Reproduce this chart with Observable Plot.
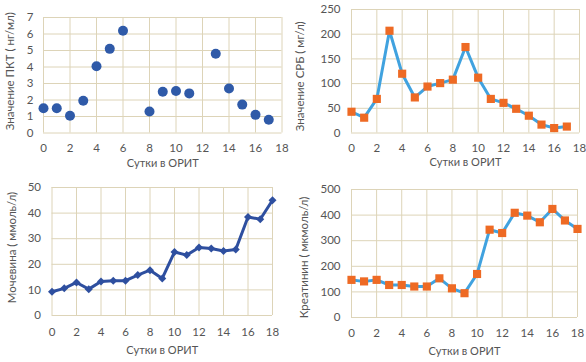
<!DOCTYPE html>
<html>
<head>
<meta charset="utf-8">
<script src="https://cdn.jsdelivr.net/npm/d3@7"></script>
<script src="https://cdn.jsdelivr.net/npm/@observablehq/plot@0.6"></script>
<style>
  html, body { margin: 0; padding: 0; background: #ffffff; }
  #wrap { position: relative; width: 586px; height: 362px; overflow: hidden; background: #fff; }
  #wrap > div, #wrap > svg { position: absolute; }
</style>
</head>
<body>
<div id="wrap"></div>
<script>
// ---- data ----
const xTicks = [0, 2, 4, 6, 8, 10, 12, 14, 16, 18];
const xTitle = "Сутки в ОРИТ";

const pctTitle = "Значение ПКТ ( нг/мл)";
const pctDays = [0, 1, 2, 3, 4, 5, 6, 8, 9, 10, 11, 13, 14, 15, 16, 17];
const pctValues = [1.5, 1.5, 1.05, 1.95, 4.05, 5.1, 6.2, 1.3, 2.5, 2.55, 2.4, 4.8, 2.7, 1.72, 1.1, 0.8];
const pctTicks = [0, 1, 2, 3, 4, 5, 6, 7];

const crpTitle = "Значение СРБ ( мг/л)";
const crpDays = [0, 1, 2, 3, 4, 5, 6, 7, 8, 9, 10, 11, 12, 13, 14, 15, 16, 17];
const crpValues = [43, 31, 69, 207, 120, 72, 94, 101, 108, 174, 112, 69, 61, 49, 35, 17, 10, 13];
const crpTicks = [0, 50, 100, 150, 200, 250];

const ureaTitle = "Мочевина ( ммоль/л)";
const ureaDays = [0, 1, 2, 3, 4, 5, 6, 7, 8, 9, 10, 11, 12, 13, 14, 15, 16, 17, 18];
const ureaValues = [9.3, 10.6, 12.9, 10.3, 13.3, 13.6, 13.6, 15.8, 17.7, 14.5, 24.8, 23.6, 26.6, 26.2, 25.2, 25.8, 38.5, 37.6, 45];
const ureaTicks = [0, 10, 20, 30, 40, 50];

const creatTitle = "Креатинин ( мкмоль/л)";
const creatDays = [0, 1, 2, 3, 4, 5, 6, 7, 8, 9, 10, 11, 12, 13, 14, 15, 16, 17, 18];
const creatValues = [147, 141, 147, 127, 127, 121, 121, 153, 114, 95, 170, 343, 330, 409, 398, 372, 424, 379, 346];
const creatTicks = [0, 100, 200, 300, 400, 500];

// ---- styles ----
const FONT = "Lato, 'Open Sans', sans-serif";
const TEXT = "#555555";
const GRID = "#ddd4b8";
const BLUE_DOT = "#2f5aa8";
const DARK_BLUE = "#2e4f9f";
const LIGHT_BLUE = "#40a2df";
const ORANGE = "#ee6a24";

const wrap = document.getElementById("wrap");

function panel({left, top, width, height, mL, mR, mT, mB, yDomain, yTicks, yTitle, yPad, yTitleOff, yTitleDy, xPad, xTitleOff, marks}) {
  const chart = Plot.plot({
    width, height,
    marginLeft: mL, marginRight: mR, marginTop: mT, marginBottom: mB,
    style: {fontFamily: FONT, fontSize: "11px", color: TEXT, background: "transparent", overflow: "visible"},
    x: {domain: [0, 18]},
    y: {domain: yDomain},
    marks: [
      Plot.ruleX(xTicks, {stroke: GRID, strokeWidth: 1, strokeOpacity: 1}),
      Plot.ruleY(yTicks, {stroke: GRID, strokeWidth: 1, strokeOpacity: 1}),
      Plot.axisX({ticks: xTicks, tickSize: 0, tickPadding: xPad, tickFormat: d3.format("d"), label: null, fontSize: 11.5, fill: TEXT}),
      Plot.axisY({ticks: yTicks, tickSize: 0, tickPadding: yPad, tickFormat: d3.format("d"), label: null, fontSize: 11.5, fill: TEXT}),
      Plot.text([xTitle], {frameAnchor: "bottom", lineAnchor: "middle", textAnchor: "middle", dy: xTitleOff, fontSize: 11, fill: TEXT}),
      Plot.text([yTitle], {frameAnchor: "left", lineAnchor: "middle", textAnchor: "middle", rotate: -90, dx: -yTitleOff, dy: yTitleDy, fontSize: 11.5, fill: TEXT}),
      ...marks
    ]
  });
  chart.style.left = left + "px";
  chart.style.top = top + "px";
  wrap.appendChild(chart);
}

// Top-left: PCT scatter
panel({
  left: 0, top: 0, width: 293, height: 181,
  mL: 43, mR: 11.5, mT: 17, mB: 48.5,
  yDomain: [0, 7], yTicks: pctTicks, yTitle: pctTitle, yPad: 10, yTitleOff: 33, yTitleDy: -4,
  xPad: 11, xTitleOff: 30,
  marks: [
    Plot.dot(pctDays.map((d, i) => ({d, v: pctValues[i]})), {x: "d", y: "v", r: 5, fill: BLUE_DOT, stroke: "none"})
  ]
});

// Top-right: CRP line + squares
const crpData = crpDays.map((d, i) => ({d, v: crpValues[i]}));
panel({
  left: 293, top: 0, width: 293, height: 181,
  mL: 58, mR: 7, mT: 9, mB: 48.5,
  yDomain: [0, 250], yTicks: crpTicks, yTitle: crpTitle, yPad: 11, yTitleOff: 51, yTitleDy: 5,
  xPad: 11, xTitleOff: 29,
  marks: [
    Plot.line(crpData, {x: "d", y: "v", stroke: LIGHT_BLUE, strokeWidth: 3}),
    Plot.dot(crpData, {x: "d", y: "v", symbol: "square", r: 4.6, fill: ORANGE, stroke: "none"})
  ]
});

// Bottom-left: urea line + diamonds
const ureaData = ureaDays.map((d, i) => ({d, v: ureaValues[i]}));
panel({
  left: 0, top: 181, width: 293, height: 181,
  mL: 51.5, mR: 21, mT: 6, mB: 47,
  yDomain: [0, 50], yTicks: ureaTicks, yTitle: ureaTitle, yPad: 11, yTitleOff: 40, yTitleDy: -4,
  xPad: 12, xTitleOff: 35,
  marks: [
    Plot.line(ureaData, {x: "d", y: "v", stroke: DARK_BLUE, strokeWidth: 3}),
    Plot.dot(ureaData, {x: "d", y: "v", symbol: "diamond2", r: 3.6, fill: DARK_BLUE, stroke: "none"})
  ]
});

// Bottom-right: creatinine line + squares
const creatData = creatDays.map((d, i) => ({d, v: creatValues[i]}));
panel({
  left: 293, top: 181, width: 293, height: 181,
  mL: 58, mR: 9, mT: 8, mB: 45,
  yDomain: [0, 500], yTicks: creatTicks, yTitle: creatTitle, yPad: 11, yTitleOff: 47, yTitleDy: 4,
  xPad: 11, xTitleOff: 34,
  marks: [
    Plot.line(creatData, {x: "d", y: "v", stroke: LIGHT_BLUE, strokeWidth: 3}),
    Plot.dot(creatData, {x: "d", y: "v", symbol: "square", r: 4.6, fill: ORANGE, stroke: "none"})
  ]
});
</script>
</body>
</html>
